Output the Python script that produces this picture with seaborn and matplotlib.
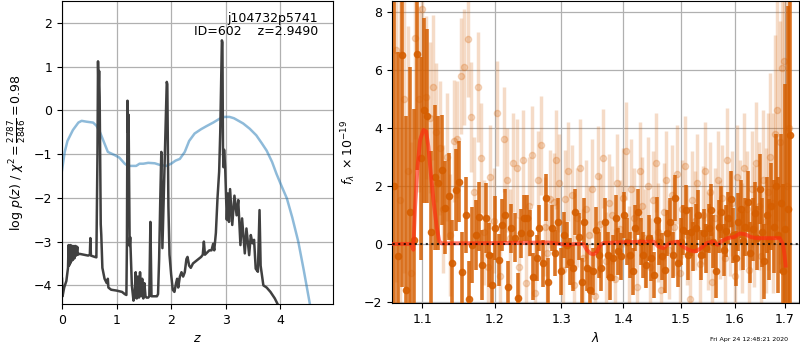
import numpy as np
import pandas as pd
import matplotlib
matplotlib.use("Agg")
import matplotlib.pyplot as plt
import seaborn as sns
from matplotlib.ticker import FixedLocator, NullLocator, FormatStrFormatter

# ---------------- data: left panel ----------------
pz_z = [0.00, 0.01, 0.04, 0.08, 0.11, 0.12, 0.13, 0.14, 0.15, 0.16, 0.17, 0.19, 0.20, 0.22, 0.23,
        0.25, 0.26, 0.28, 0.29, 0.32, 0.40, 0.48, 0.51, 0.52, 0.53, 0.60, 0.63, 0.65, 0.66, 0.67,
        0.68, 0.69, 0.71, 0.72, 0.74, 0.78, 0.82, 0.84, 0.85, 0.90, 1.00, 1.10, 1.15, 1.18, 1.19,
        1.20, 1.21, 1.22, 1.23, 1.24, 1.25, 1.28, 1.31, 1.33, 1.35, 1.37, 1.39, 1.41, 1.43, 1.45,
        1.47, 1.49, 1.51, 1.53, 1.55, 1.58, 1.60, 1.62, 1.64, 1.68, 1.74, 1.76, 1.78, 1.80, 1.82,
        1.84, 1.87, 1.90, 1.92, 1.93, 1.95, 1.97, 2.00, 2.03, 2.06, 2.09, 2.11, 2.13, 2.16, 2.19,
        2.22, 2.25, 2.28, 2.30, 2.33, 2.36, 2.40, 2.45, 2.50, 2.55, 2.58, 2.60, 2.62, 2.66, 2.70,
        2.74, 2.77, 2.79, 2.82, 2.85, 2.88, 2.90, 2.92, 2.93, 2.94, 2.95, 2.96, 2.97, 2.99, 3.02,
        3.04, 3.06, 3.08, 3.12, 3.16, 3.20, 3.23, 3.27, 3.30, 3.35, 3.38, 3.43, 3.46, 3.49, 3.52,
        3.55, 3.59, 3.62, 3.64, 3.69, 3.75, 3.82, 3.90, 3.96, 4.02]
pz_logp = [-3.85, -4.25, -4.05, -3.90, -3.60, -3.08, -3.55, -3.10, -3.50, -3.08, -3.45, -3.10, -3.42, -3.10, -3.38,
           -3.10, -3.32, -3.12, -3.30, -3.28, -3.30, -3.32, -3.30, -2.92, -3.32, -3.35, -3.36, -1.00, 1.12, 0.40,
           0.90, 0.30, -2.60, -2.85, -3.60, -3.85, -3.95, -3.85, -4.05, -4.10, -4.12, -4.15, -4.20, -4.22, -3.00,
           0.22, -0.50, -0.10, -1.50, -3.10, -2.90, -4.00, -4.35, -4.25, -3.70, -4.30, -3.80, -4.28, -3.70, -4.25,
           -3.85, -4.30, -3.95, -4.25, -4.28, -4.28, -4.25, -2.55, -4.25, -4.25, -4.25, -4.20, -3.40, -2.10, -0.95,
           -3.15, -1.70, -0.20, 0.65, 0.60, -2.20, -3.30, -3.75, -4.10, -4.15, -3.95, -3.85, -4.05, -3.80, -3.70,
           -3.80, -3.70, -3.40, -3.35, -3.55, -3.60, -3.50, -3.45, -3.40, -3.35, -3.30, -3.00, -3.30, -3.25, -3.20,
           -3.20, -3.05, -3.20, -2.80, -2.00, -1.40, -0.50, 1.00, 1.60, 1.55, -0.90, -1.30, -0.90, -1.30, -2.50,
           -1.90, -2.55, -1.80, -2.62, -1.95, -2.40, -2.05, -3.08, -2.47, -3.27, -2.70, -3.31, -2.85, -3.04, -2.96,
           -3.62, -3.69, -2.28, -3.55, -4.00, -4.05, -4.15, -4.30, -4.45, -4.60]

prior_z = [0.00, 0.05, 0.10, 0.20, 0.30, 0.36, 0.45, 0.57, 0.63, 0.69, 0.76, 0.84, 0.96, 1.05, 1.15,
           1.21, 1.30, 1.36, 1.42, 1.49, 1.58, 1.70, 1.80, 1.91, 2.00, 2.08, 2.16, 2.25, 2.33, 2.43,
           2.55, 2.65, 2.77, 2.89, 2.98, 3.07, 3.15, 3.25, 3.32, 3.44, 3.56, 3.66, 3.75, 3.85, 3.93,
           4.02, 4.12, 4.22, 4.33, 4.43, 4.54, 4.60]
prior_logp = [-1.37, -0.95, -0.70, -0.45, -0.28, -0.24, -0.26, -0.28, -0.35, -0.48, -0.70, -0.95, -1.02, -1.08, -1.22,
              -1.27, -1.27, -1.27, -1.22, -1.22, -1.20, -1.21, -1.25, -1.27, -1.22, -1.15, -1.11, -0.95, -0.70, -0.53,
              -0.43, -0.36, -0.28, -0.19, -0.15, -0.15, -0.18, -0.25, -0.30, -0.42, -0.57, -0.75, -0.92, -1.18, -1.45,
              -1.72, -2.01, -2.45, -3.00, -3.65, -4.41, -4.80]

# ---------------- data: right panel ----------------
wave_a = [1.064, 1.069, 1.074, 1.079, 1.084, 1.089, 1.093, 1.098, 1.103, 1.107, 1.112, 1.117, 1.121,
          1.126, 1.131, 1.136, 1.140, 1.145, 1.150, 1.154, 1.159, 1.164, 1.168, 1.173, 1.178, 1.182,
          1.187, 1.192, 1.196, 1.201, 1.206, 1.210, 1.215, 1.220, 1.224, 1.229, 1.234, 1.238, 1.243,
          1.248, 1.252, 1.257, 1.262, 1.266, 1.271, 1.276, 1.280, 1.285, 1.290, 1.294, 1.299, 1.304,
          1.308, 1.313, 1.318, 1.322, 1.327, 1.332, 1.336, 1.341, 1.346, 1.350, 1.355, 1.360, 1.364,
          1.369, 1.374, 1.378, 1.383, 1.388, 1.392, 1.397, 1.402, 1.406, 1.411, 1.416, 1.420, 1.425,
          1.430, 1.434, 1.439, 1.444, 1.448, 1.453, 1.458, 1.462, 1.467, 1.472, 1.476, 1.481, 1.486,
          1.490, 1.495, 1.500, 1.504, 1.509, 1.514, 1.518, 1.523, 1.528, 1.532, 1.537, 1.542, 1.546,
          1.551, 1.556, 1.560, 1.565, 1.570, 1.574, 1.579, 1.584, 1.588, 1.593, 1.598, 1.602, 1.607,
          1.612, 1.616, 1.621, 1.626, 1.630, 1.635, 1.640, 1.644, 1.649, 1.654, 1.658, 1.663, 1.668,
          1.672, 1.677, 1.682, 1.686, 1.691, 1.696, 1.700, 1.705, 1.710]
flux_a = [2.0, -0.4, 6.5, -1.6, 1.1, 0.15, 6.55, 2.95, 4.6, 4.4, 0.4, 2.3, 2.1,
          2.55, 1.25, 1.65, -0.67, 1.86, 2.15, -0.98, 1.0, -1.9, -0.03, 0.31, 0.94, -0.72,
          0.89, -0.38, -1.41, 0.54, -0.55, 0.66, 0.98, -1.5, 0.54, 0.22, -1.85, 0.37, 0.89,
          0.89, 0.37, -1.13, -0.49, 0.54, -0.67, 1.6, -1.3, 0.54, -0.32, 0.77, -0.95, 0.31,
          -0.03, -0.61, -0.84, 1.11, 0.25, -1.3, 0.77, -0.84, -1.59, -0.95, 0.48, -0.38, -0.84,
          0.77, -0.38, -1.13, -0.49, 0.89, -0.26, -0.43, 1.0, 0.08, -0.38, -0.95, 0.54, 1.11,
          0.08, -0.38, -0.72, 0.2, -0.49, -1.07, 0.83, 0.08, -0.43, -0.9, 0.37, 0.77, -0.38,
          1.58, -0.67, 0.08, 0.48, 1.17, -0.38, 0.42, -0.09, 0.54, 1.0, -0.38, 0.37, -0.15,
          0.54, 1.17, 0.08, -0.95, 0.6, 1.1, -0.2, 0.45, 0.9, 1.55, 0.3, -0.5, 0.75,
          1.2, 0.1, 0.6, 1.45, -0.3, 0.5, 1.05, 0.2, 1.9, 0.4, -0.6, 1.0, 0.15,
          1.3, 0.6, 2.0, 0.3, 1.4, -0.95, 0.5, 1.2, 3.75]
err_a = [9.0, 7.0, 8.0, 6.0, 5.0, 4.5, 4.0, 3.5, 3.2, 3.0, 2.8, 2.5, 2.3,
         1.9, 1.6, 1.5, 1.5, 1.4, 1.4, 1.4, 1.3, 1.3, 1.3, 1.2, 1.2, 1.2,
         1.2, 1.1, 1.1, 1.1, 0.9, 0.9, 0.9, 0.9, 0.85, 0.85, 0.85, 0.85, 0.8,
         0.8, 0.8, 0.8, 0.8, 0.8, 0.8, 0.8, 0.8, 0.8, 0.8, 0.8, 0.8, 0.8,
         0.8, 0.8, 0.8, 0.8, 0.8, 0.8, 0.8, 0.8, 0.8, 0.8, 0.8, 0.8, 0.8,
         0.8, 0.8, 0.8, 0.8, 0.8, 0.8, 0.8, 0.8, 0.8, 0.8, 0.8, 0.8, 0.8,
         0.8, 0.8, 0.8, 0.8, 0.8, 0.8, 0.8, 0.8, 0.8, 0.8, 0.8, 0.8, 0.8,
         0.8, 0.8, 0.8, 0.85, 0.85, 0.85, 0.85, 0.85, 0.85, 0.85, 0.85, 0.85, 0.85,
         0.85, 0.9, 0.9, 0.9, 0.9, 0.9, 0.9, 0.9, 0.9, 0.95, 0.95, 0.95, 1.0,
         1.0, 1.0, 1.0, 1.05, 1.05, 1.1, 1.1, 1.1, 1.2, 1.2, 1.3, 1.3, 1.4,
         1.5, 1.6, 1.8, 2.0, 2.4, 3.0, 5.0, 7.0, 9.0]

wave_b = [1.066, 1.071, 1.076, 1.081, 1.086, 1.091, 1.096, 1.100, 1.105, 1.110, 1.114, 1.119, 1.124,
          1.128, 1.133, 1.138, 1.143, 1.147, 1.152, 1.157, 1.162, 1.166, 1.171, 1.176, 1.180, 1.185,
          1.190, 1.194, 1.199, 1.204, 1.208, 1.213, 1.218, 1.222, 1.227, 1.232, 1.236, 1.241, 1.246,
          1.250, 1.255, 1.260, 1.264, 1.269, 1.274, 1.278, 1.283, 1.288, 1.292, 1.297, 1.302, 1.306,
          1.311, 1.316, 1.320, 1.325, 1.330, 1.334, 1.339, 1.344, 1.348, 1.353, 1.358, 1.362, 1.367,
          1.372, 1.376, 1.381, 1.386, 1.390, 1.395, 1.400, 1.404, 1.409, 1.414, 1.418, 1.423, 1.428,
          1.432, 1.437, 1.442, 1.446, 1.451, 1.456, 1.460, 1.465, 1.470, 1.474, 1.479, 1.484, 1.488,
          1.493, 1.498, 1.502, 1.507, 1.512, 1.516, 1.521, 1.526, 1.530, 1.535, 1.540, 1.544, 1.549,
          1.554, 1.558, 1.563, 1.568, 1.572, 1.577, 1.582, 1.586, 1.591, 1.596, 1.600, 1.605, 1.610,
          1.614, 1.619, 1.624, 1.628, 1.633, 1.638, 1.642, 1.647, 1.652, 1.656, 1.661, 1.666, 1.670,
          1.675, 1.680, 1.684, 1.689, 1.694, 1.698, 1.703, 1.708]
flux_b = [6.7, 1.5, 5.0, 2.5, -1.0, 7.1, 5.0, 8.1, 5.05, 4.35, 5.4, 3.85, 3.3,
          1.2, 3.0, 0.3, 3.55, 3.6, 5.8, 6.1, 7.05, 4.37, 1.8, 5.4, 2.95, 0.4,
          -0.8, 2.3, 0.8, 4.5, -1.1, 3.6, 2.2, 0.2, 2.8, 2.6, -0.78, 2.9, -1.36,
          1.3, 3.05, -1.7, 2.2, 3.4, 0.6, -0.3, 1.55, 1.45, 2.9, 2.1, -0.9, 1.55,
          2.5, 1.7, -1.4, 0.9, 2.6, -0.5, 1.2, 0.3, 1.9, -1.8, 2.35, 0.7, 2.95,
          -0.6, 1.4, 1.0, -1.2, 2.1, 0.5, 1.6, 3.2, -0.4, 1.9, 0.9, -1.5, 2.5,
          1.3, 0.2, 2.0, -0.8, 1.5, 2.8, 0.4, -1.6, 1.1, 2.2, -0.2, 1.7, 0.6,
          2.4, -1.0, 1.2, 2.7, 0.3, -1.9, 1.5, 0.8, 2.1, -0.7, 1.0, 2.5, 0.1,
          1.8, -1.3, 0.9, 2.2, 0.5, 1.6, -0.5, 2.9, 0.7, 1.4, -1.1, 2.3, 1.0,
          0.2, 2.6, 1.2, -0.9, 1.9, 0.6, 2.8, 1.3, -0.4, 2.2, 0.8, 1.8, 3.0,
          1.4, 3.8, 4.6, 3.5, 6.05, 6.3, 2.0, 4.0]
err_b = [8.0, 7.0, 6.0, 5.0, 4.5, 3.5, 3.2, 3.0, 2.8, 2.6, 2.5, 2.4, 2.3,
         2.2, 2.2, 2.1, 2.1, 2.0, 2.0, 2.0, 2.0, 1.9, 1.9, 1.9, 1.9, 1.8,
         1.8, 1.8, 1.8, 1.8, 1.8, 1.8, 1.8, 1.7, 1.7, 1.7, 1.7, 1.7, 1.7,
         1.7, 1.7, 1.7, 1.7, 1.7, 1.7, 1.7, 1.7, 1.7, 1.7, 1.7, 1.7, 1.7,
         1.7, 1.7, 1.7, 1.7, 1.7, 1.7, 1.7, 1.7, 1.7, 1.7, 1.7, 1.7, 1.7,
         1.7, 1.7, 1.7, 1.7, 1.7, 1.7, 1.7, 1.7, 1.7, 1.7, 1.7, 1.7, 1.7,
         1.7, 1.7, 1.7, 1.7, 1.7, 1.7, 1.7, 1.7, 1.7, 1.7, 1.7, 1.7, 1.7,
         1.7, 1.7, 1.7, 1.7, 1.7, 1.7, 1.7, 1.7, 1.7, 1.7, 1.7, 1.7, 1.7,
         1.7, 1.7, 1.7, 1.7, 1.7, 1.8, 1.8, 1.8, 1.8, 1.8, 1.8, 1.8, 1.9,
         1.9, 1.9, 2.0, 2.0, 2.0, 2.1, 2.1, 2.2, 2.3, 2.4, 2.5, 2.7, 2.9,
         3.1, 3.4, 3.8, 4.2, 4.8, 5.5, 7.0, 9.0]

model_wave = [1.062, 1.086, 1.0885, 1.0908, 1.094, 1.0974, 1.1017, 1.1053, 1.1083, 1.1115, 1.115, 1.1194,
              1.1229, 1.126, 1.20, 1.28, 1.31, 1.322, 1.335, 1.340, 1.346, 1.351, 1.356, 1.362, 1.367,
              1.40, 1.452, 1.460, 1.469, 1.480, 1.494, 1.504, 1.516, 1.526, 1.535, 1.548, 1.558, 1.568,
              1.576, 1.587, 1.600, 1.610, 1.621, 1.631, 1.643, 1.689, 1.696, 1.699, 1.701]
model_flux = [0.0, 0.0, -0.2, 1.29, 2.67, 3.59, 3.93, 3.88, 3.36, 2.44, 1.52, 0.6,
              0.09, 0.02, 0.03, 0.05, -0.03, 0.0, 0.0, -0.2, -0.33, -0.36, -0.29, -0.03, 0.03,
              0.06, 0.08, -0.09, -0.15, 0.03, 0.08, -0.09, -0.22, -0.26, -0.17, 0.03, 0.08, -0.03,
              0.1, 0.2, 0.24, 0.36, 0.33, 0.24, 0.2, 0.2, -0.03, -0.4, -0.75]

# ---------------- figure ----------------
plt.rcParams['font.family'] = ['DejaVu Sans']
plt.rcParams['font.size'] = 9
fig = plt.figure(figsize=(8, 3.5), dpi=100)
ax1 = fig.add_axes([0.0775, 0.131, 0.339, 0.865])
ax2 = fig.add_axes([0.49, 0.134, 0.509, 0.862])

prior_df = pd.DataFrame({'z': prior_z, 'logp': prior_logp})
pz_df = pd.DataFrame({'z': pz_z, 'logp': pz_logp})
sns.lineplot(data=prior_df, x='z', y='logp', ax=ax1, color='#1f77b4', alpha=0.5, lw=1.8,
             estimator=None, sort=False)
sns.lineplot(data=pz_df, x='z', y='logp', ax=ax1, color='0.25', lw=1.8,
             estimator=None, sort=False)
ax1.set_xlim(0, 4.97)
ax1.set_ylim(-4.43, 2.49)
ax1.set_xticks([0, 1, 2, 3, 4])
ax1.set_yticks([-4, -3, -2, -1, 0, 1, 2])
ax1.grid(True, color='#b0b0b0', lw=0.9)
ax1.set_axisbelow(True)
ax1.set_xlabel('$z$')
ax1.set_ylabel(r'$\log\,p(z)$ / $\chi^2=\frac{2787}{2846}=0.98$')
ax1.text(0.945, 0.965, 'j104732p5741\nID=602    z=2.9490', transform=ax1.transAxes,
         ha='right', va='top', fontsize=9, linespacing=1.05)

# right panel
ax2.set_xscale('log')
ax2.errorbar(wave_b, flux_b, yerr=err_b, color='#d55e00', alpha=0.22, marker='o', ms=4.5,
             linestyle='None', elinewidth=2.5, zorder=1)
ax2.errorbar(wave_a, flux_a, yerr=err_a, color='#d55e00', alpha=0.85, marker='o', ms=4.5,
             linestyle='None', elinewidth=2.6, zorder=2)
model_df = pd.DataFrame({'wave': model_wave, 'flux': model_flux})
sns.lineplot(data=model_df, x='wave', y='flux', ax=ax2, color='#ff2a10', alpha=0.65, lw=2.8,
             estimator=None, sort=False, zorder=3)
ax2.plot([1.0, 1.8], [0, 0], color='k', linestyle=':', lw=1.5, alpha=0.8, zorder=4)
ax2.set_xlim(1.061, 1.729)
ax2.set_ylim(-2.04, 8.36)
ax2.xaxis.set_major_locator(FixedLocator([1.1, 1.2, 1.3, 1.4, 1.5, 1.6, 1.7]))
ax2.xaxis.set_minor_locator(NullLocator())
ax2.xaxis.set_major_formatter(FormatStrFormatter('%.1f'))
ax2.set_yticks([-2, 0, 2, 4, 6, 8])
ax2.grid(True, color='#b0b0b0', lw=0.9)
ax2.set_axisbelow(True)
ax2.set_xlabel(r'$\lambda$')
ax2.set_ylabel(r'$f_\lambda\ \times 10^{-19}$')

fig.text(0.985, 0.031, 'Fri Apr 24 12:48:21 2020', ha='right', va='center', fontsize=4.5)

fig.savefig('out.png', dpi=100)
